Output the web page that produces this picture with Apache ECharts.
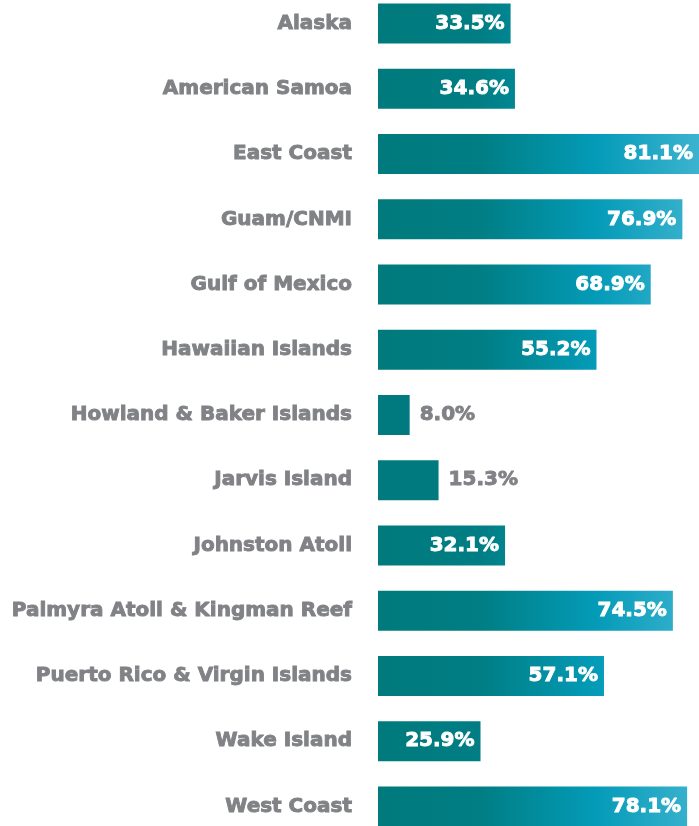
<!DOCTYPE html>
<html>
<head>
<meta charset="utf-8">
<script src="https://cdn.jsdelivr.net/npm/echarts@6/dist/echarts.min.js"></script>
<style>
  html, body { margin: 0; padding: 0; background: #ffffff; }
  #chart { width: 699px; height: 826px; }
</style>
</head>
<body>
<div id="chart"></div>
<script>
// Share of each region, in percent
const regions = [
  'Alaska',
  'American Samoa',
  'East Coast',
  'Guam/CNMI',
  'Gulf of Mexico',
  'Hawaiian Islands',
  'Howland & Baker Islands',
  'Jarvis Island',
  'Johnston Atoll',
  'Palmyra Atoll & Kingman Reef',
  'Puerto Rico & Virgin Islands',
  'Wake Island',
  'West Coast'
];
const shares = [33.5, 34.6, 81.1, 76.9, 68.9, 55.2, 8.0, 15.3, 32.1, 74.5, 57.1, 25.9, 78.1];

const FONT = 'DejaVu Sans';
const GREY = '#808285';
const chart = echarts.init(document.getElementById('chart'), null, { renderer: 'canvas' });

// Teal-to-sky gradient laid out across the whole plot width
const barFill = new echarts.graphic.LinearGradient(378, 0, 699, 0, [
  { offset: 0, color: '#007a7c' },
  { offset: 0.32, color: '#007e84' },
  { offset: 0.68, color: '#049bb8' },
  { offset: 1, color: '#3cb3cf' }
], true);

const smallCut = 20;

chart.setOption({
  animation: false,
  grid: {
    left: 378, right: 0, top: -9, height: 848,
    containLabel: false, outerBoundsMode: 'none'
  },
  xAxis: {
    type: 'value',
    min: 0,
    max: Math.max(...shares),
    show: false
  },
  yAxis: {
    type: 'category',
    data: regions,
    inverse: true,
    axisLine: { show: false },
    axisTick: { show: false },
    splitLine: { show: false },
    axisLabel: {
      margin: 26,
      color: GREY,
      fontFamily: FONT,
      fontWeight: 'bold',
      fontSize: 20,
      textBorderColor: GREY,
      textBorderWidth: 0.9
    }
  },
  series: [{
    type: 'bar',
    barWidth: 40,
    data: shares.map(v => ({
      value: v,
      itemStyle: { color: v < smallCut ? '#007a7e' : barFill },
      label: v < smallCut
        ? { position: 'right', distance: 10, color: GREY, textBorderColor: GREY }
        : { position: 'insideRight', distance: 6, color: '#ffffff', textBorderColor: '#ffffff' }
    })),
    label: {
      show: true,
      fontFamily: FONT,
      fontWeight: 'bold',
      fontSize: 20,
      textBorderWidth: 0.9,
      formatter: p => p.value.toFixed(1) + '%'
    }
  }]
});
</script>
</body>
</html>
